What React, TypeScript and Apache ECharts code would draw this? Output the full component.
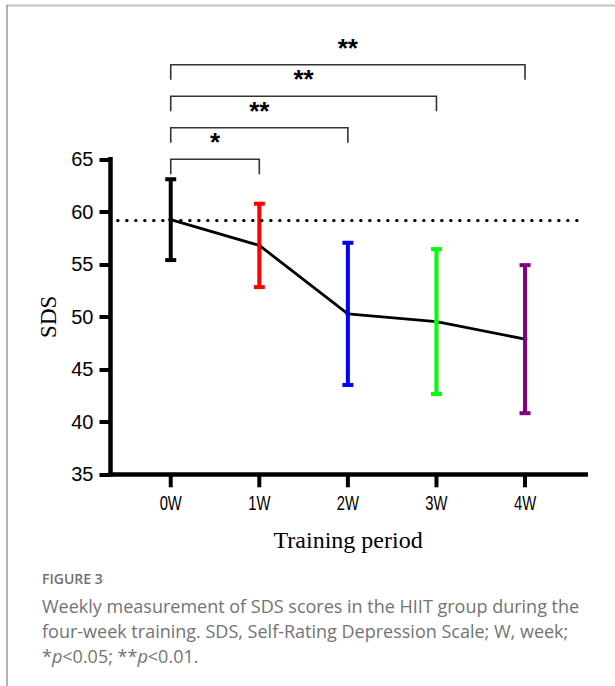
import React, { useEffect, useRef } from "react";
import * as echarts from "echarts";

// ---- data ----
const categories = ["0W", "1W", "2W", "3W", "4W"];
const means = [59.25, 56.8, 50.28, 49.55, 47.87];
const sds = [3.85, 3.97, 6.77, 6.9, 7.05];
const barColors = ["#000000", "#ff0000", "#0000ff", "#00ff00", "#800080"];
const baselineValue = 59.2;
const yTicks = { min: 35, max: 65, interval: 5 };
const bracketStart = 0;
const bracketEnds = [1, 2, 3, 4];
const bracketLevels = [65, 68, 71, 74];
const bracketLabels = ["*", "**", "**", "**"];
const captionTitle = "FIGURE 3";
const captionLines = [
  "Weekly measurement of SDS scores in the HIIT group during the",
  "four-week training. SDS, Self-Rating Depression Scale; W, week;",
  "*{i|p}<0.05; **{i|p}<0.01.",
];

export default function App() {
  const ref = useRef<HTMLDivElement>(null);
  useEffect(() => {
    if (!ref.current) return;
    const chart = echarts.init(ref.current, null, { renderer: "svg" });
    const baseGraphic: any[] = [
      { type: "line", shape: { x1: 6, y1: 5.5, x2: 615, y2: 5.5 }, style: { stroke: "#c4c4c4", lineWidth: 2 } },
      { type: "line", shape: { x1: 7, y1: 5, x2: 7, y2: 686 }, style: { stroke: "#8a8a8a", lineWidth: 1.3 } },
      {
        type: "text",
        x: 42,
        y: 578,
        style: {
          text: captionTitle,
          font: "600 14px 'Open Sans', sans-serif",
          fill: "#707070",
          verticalAlign: "middle",
        },
      },
      ...captionLines.map((t, i) => ({
        type: "text",
        x: 42,
        y: 606 + i * 25,
        style: {
          text: t,
          fontSize: 18,
          fontFamily: "'Open Sans', sans-serif",
          fill: "#737373",
          verticalAlign: "middle",
          rich: { i: { fontStyle: "italic", fontSize: 18, fontFamily: "'Open Sans', sans-serif", fill: "#737373" } },
        },
      })),
    ];
    const option: any = {
      animation: false,
      backgroundColor: "#ffffff",
      grid: { left: 110.5, right: 29.3, top: 159.3, bottom: 211.7 },
      xAxis: {
        type: "value",
        min: -0.68,
        max: 4.685,
        splitLine: { show: false },
        axisLine: { show: true, onZero: false, lineStyle: { color: "#000", width: 4.5, cap: "square" } },
        axisTick: { show: false },
        axisLabel: { show: false },
        name: "Training period",
        nameLocation: "middle",
        nameGap: 54,
        nameTextStyle: { fontFamily: "'Liberation Serif', 'Times New Roman', serif", fontSize: 24, color: "#000" },
      },
      yAxis: {
        type: "value",
        min: yTicks.min,
        max: yTicks.max,
        interval: yTicks.interval,
        splitLine: { show: false },
        axisLine: { show: true, onZero: false, lineStyle: { color: "#000", width: 4.5, cap: "square" } },
        axisTick: { show: true, length: 11, lineStyle: { color: "#000", width: 4 } },
        axisLabel: {
          margin: 17,
          fontSize: 20,
          color: "#000",
          fontFamily: "'Liberation Sans', Arial, sans-serif",
        },
        name: "SDS",
        nameLocation: "middle",
        nameGap: 48,
        nameRotate: 90,
        nameTextStyle: { fontFamily: "'Liberation Serif', 'Times New Roman', serif", fontSize: 23, color: "#000" },
      },
      series: [
        {
          type: "custom",
          name: "xaxislabels",
          clip: false,
          silent: true,
          data: categories.map((c, i) => [i, yTicks.min]),
          renderItem: (params: any, api: any) => {
            const p = api.coord([api.value(0), api.value(1)]);
            return {
              type: "text",
              x: p[0],
              y: p[1] + 29,
              scaleX: 0.74,
              style: {
                text: categories[params.dataIndex],
                fontSize: 20,
                fontFamily: "'Liberation Sans', Arial, sans-serif",
                fill: "#000",
                align: "center",
                verticalAlign: "middle",
              },
            };
          },
        },
        {
          type: "custom",
          name: "errorbars",
          clip: false,
          z: 1,
          data: means.map((m, i) => [i, m, sds[i]]),
          renderItem: (params: any, api: any) => {
            const x = api.value(0);
            const m = api.value(1);
            const s = api.value(2);
            const top = api.coord([x, m + s]);
            const bot = api.coord([x, m - s]);
            const color = barColors[params.dataIndex];
            const st = { stroke: color, lineWidth: 4 };
            return {
              type: "group",
              children: [
                { type: "line", shape: { x1: top[0], y1: top[1], x2: bot[0], y2: bot[1] }, style: st },
                { type: "line", shape: { x1: top[0] - 5.5, y1: top[1], x2: top[0] + 5.5, y2: top[1] }, style: st },
                { type: "line", shape: { x1: bot[0] - 5.5, y1: bot[1], x2: bot[0] + 5.5, y2: bot[1] }, style: st },
              ],
            };
          },
        },
        {
          type: "line",
          name: "mean",
          z: 3,
          data: means.map((m, i) => ({ value: [i, m], itemStyle: { color: barColors[i] } })),
          symbol: "circle",
          symbolSize: 5,
          lineStyle: { color: "#000", width: 2.8 },
          markLine: {
            silent: true,
            symbol: "none",
            label: { show: false },
            lineStyle: { color: "#000", width: 3, type: [0.5, 8.5], cap: "round" },
            data: [[{ coord: [-0.6, baselineValue] }, { coord: [4.62, baselineValue] }]],
          },
        },
        {
          type: "custom",
          name: "brackets",
          clip: false,
          z: 2,
          data: bracketEnds.map((e, k) => [bracketStart, e, bracketLevels[k]]),
          renderItem: (params: any, api: any) => {
            const p1 = api.coord([api.value(0), api.value(2)]);
            const p2 = api.coord([api.value(1), api.value(2)]);
            const leg = 15;
            return {
              type: "group",
              children: [
                {
                  type: "polyline",
                  shape: { points: [[p1[0], p1[1] + leg], [p1[0], p1[1]], [p2[0], p1[1]], [p2[0], p1[1] + leg]] },
                  style: { stroke: "#333", lineWidth: 1.6, fill: "none" },
                },
                {
                  type: "text",
                  x: (p1[0] + p2[0]) / 2,
                  y: p1[1] - 4,
                  style: {
                    text: bracketLabels[params.dataIndex],
                    fontSize: 26,
                    fontWeight: "bold",
                    fontFamily: "'Liberation Sans', Arial, sans-serif",
                    fill: "#000",
                    align: "center",
                    verticalAlign: "bottom",
                  },
                },
              ],
            };
          },
        },
      ],
      graphic: baseGraphic,
    };
    chart.setOption(option);
    // x-axis tick marks, placed through the chart's own scale
    const tickGraphic = categories.map((_, i) => {
      const p = chart.convertToPixel({ gridIndex: 0 }, [i, yTicks.min]) as number[];
      return {
        type: "rect",
        z: 100,
        shape: { x: p[0] - 2, y: p[1] + 1, width: 4, height: 12 },
        style: { fill: "#000" },
      };
    });
    chart.setOption({ graphic: [...baseGraphic, ...tickGraphic] }, { replaceMerge: ["graphic"] });
    return () => chart.dispose();
  }, []);
  return <div ref={ref} style={{ position: "absolute", left: 0, top: 0, width: 615, height: 686 }} />;
}
